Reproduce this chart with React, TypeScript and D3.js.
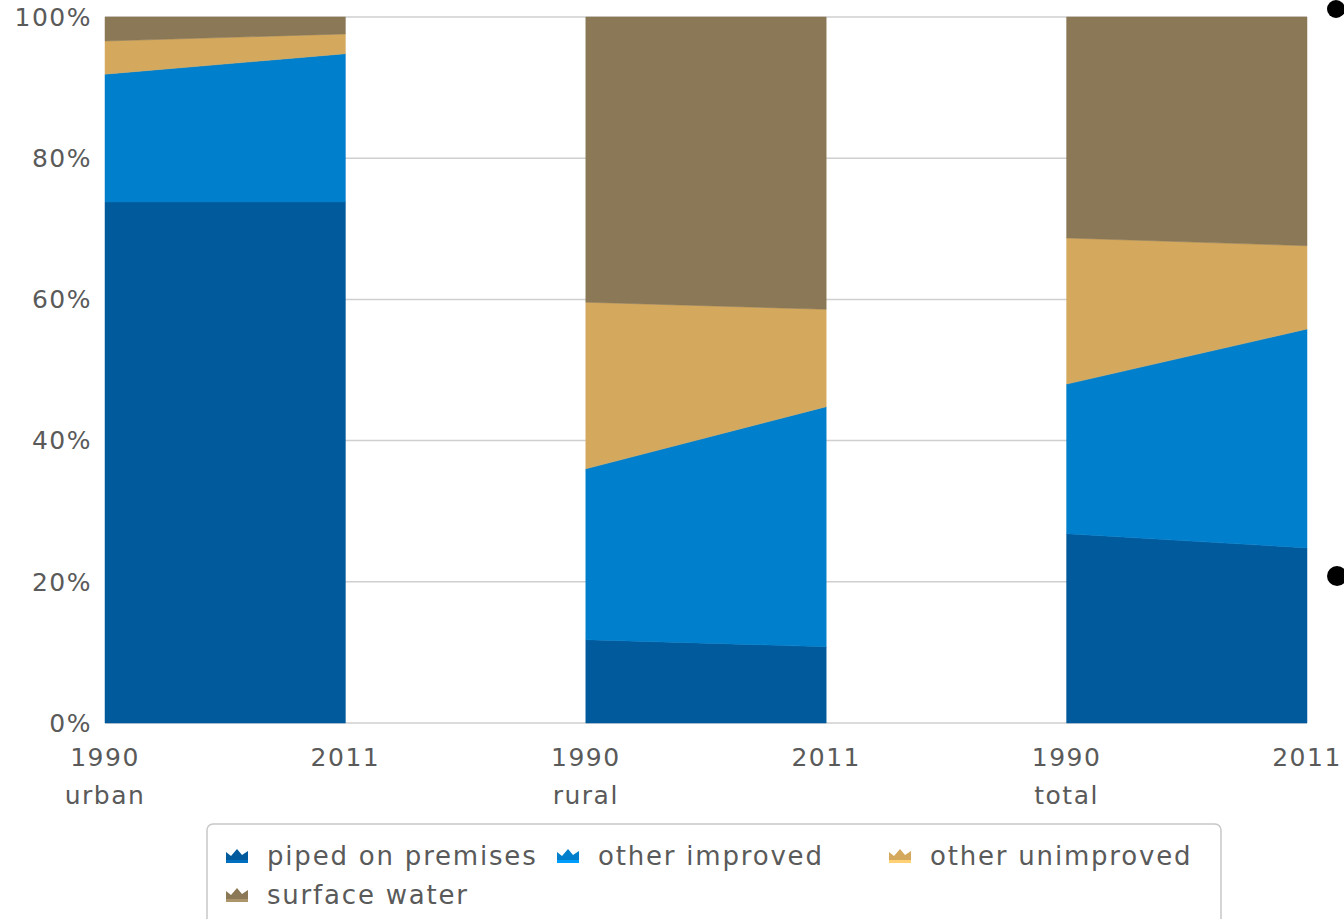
import React from "react";
import * as d3 from "d3";

const groups = ["urban", "rural", "total"];
const years = ["1990", "2011"];
const seriesNames = ["piped on premises", "other improved", "other unimproved", "surface water"];
const seriesColors = ["#005a9b", "#007fcc", "#d4a95e", "#8b7856"];
// values (%) per point: urban 1990, urban 2011, rural 1990, rural 2011, total 1990, total 2011
const piped = [73.8, 73.8, 11.8, 10.8, 26.8, 24.8];
const otherImproved = [18.1, 21.0, 24.2, 34.0, 21.2, 31.0];
const otherUnimproved = [4.7, 2.8, 23.6, 13.8, 20.7, 11.8];
const surfaceWater = [3.4, 2.4, 40.4, 41.4, 31.3, 32.4];
const yTicks = [0, 20, 40, 60, 80, 100];

const W = 1344;
const H = 919;
const left = 105;
const right = 1307;
const top = 17;
const bottom = 723;

export default function App() {
  const x = d3.scaleLinear().domain([0, 5]).range([left, right]);
  const y = d3.scaleLinear().domain([0, 100]).range([bottom, top]);
  const rows = piped.map((_, i) => ({
    i,
    s0: piped[i],
    s1: otherImproved[i],
    s2: otherUnimproved[i],
    s3: surfaceWater[i],
  }));
  const stack = d3.stack<any>().keys(["s0", "s1", "s2", "s3"]);
  const layers = stack(rows);
  const area = d3
    .area<any>()
    .x((d) => x(d.data.i))
    .y0((d) => y(d[0]))
    .y1((d) => y(d[1]));

  const font = "'DejaVu Sans', Verdana, sans-serif";
  const textColor = "#5a5a5a";

  const legendItems = [
    { x: 237, y: 856 },
    { x: 568, y: 856 },
    { x: 900, y: 856 },
    { x: 237, y: 895 },
  ];

  const icon = (cx: number, cy: number, color: string) => (
    <g transform={`translate(${cx - 11},${cy - 8})`}>
      <path d="M0,14 L0,4 L5,8 L11,1 L16,7 L22,3 L22,14 Z" fill={color} />
      <rect x={0} y={12} width={22} height={3} fill={d3.color(color)!.brighter(0.6).toString()} />
    </g>
  );

  return (
    <svg
      width={W}
      height={H}
      style={{ position: "absolute", left: 0, top: 0, background: "#fff" }}
      fontFamily={font}
    >
      {yTicks.map((t) => (
        <line key={t} x1={left} x2={right} y1={y(t)} y2={y(t)} stroke="#cfcfcf" strokeWidth={1.5} />
      ))}
      {yTicks.map((t) => (
        <text
          key={"l" + t}
          x={92}
          y={y(t)}
          dy="0.35em"
          textAnchor="end"
          fontSize={25}
          fill={textColor}
          letterSpacing={1.5}
        >
          {t}%
        </text>
      ))}
      {groups.map((g, gi) => (
        <g key={g}>
          {layers.map((layer, li) => (
            <path
              key={li}
              d={area(layer.slice(gi * 2, gi * 2 + 2)) || ""}
              fill={seriesColors[li]}
              stroke={seriesColors[li]}
              strokeWidth={0.5}
            />
          ))}
        </g>
      ))}
      {piped.map((_, i) => (
        <text
          key={"x" + i}
          x={x(i)}
          y={766}
          textAnchor="middle"
          fontSize={25}
          fill={textColor}
          letterSpacing={1.5}
        >
          {years[i % 2]}
        </text>
      ))}
      {groups.map((g, gi) => (
        <text
          key={"g" + g}
          x={x(gi * 2)}
          y={804}
          textAnchor="middle"
          fontSize={25}
          fill={textColor}
          letterSpacing={1.5}
        >
          {g}
        </text>
      ))}
      <rect x={207} y={824} width={1014} height={110} rx={6} fill="#fff" stroke="#c8c8c8" strokeWidth={1.5} />
      {seriesNames.map((n, i) => (
        <g key={n}>
          {icon(legendItems[i].x, legendItems[i].y, seriesColors[i])}
          <text
            x={legendItems[i].x + 30}
            y={legendItems[i].y}
            dy="0.35em"
            fontSize={26}
            fill={textColor}
            letterSpacing={1.8}
          >
            {n}
          </text>
        </g>
      ))}
      <circle cx={1336} cy={9} r={9} fill="#000" />
      <circle cx={1337} cy={576} r={10} fill="#000" />
    </svg>
  );
}
